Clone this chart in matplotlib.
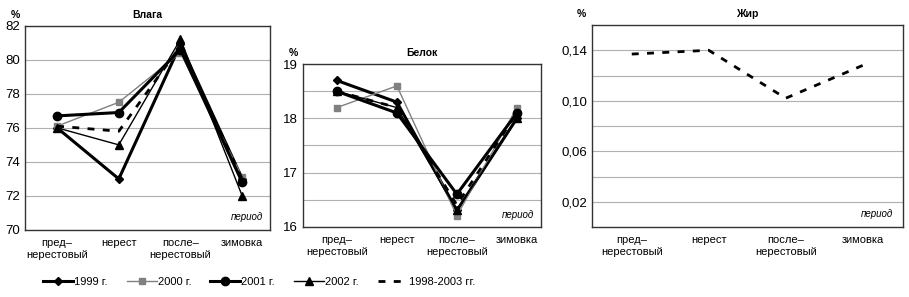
import matplotlib
matplotlib.use("Agg")
import matplotlib.pyplot as plt
from matplotlib import font_manager
from matplotlib.ticker import MultipleLocator, FixedLocator

plt.rcParams["font.family"] = ["Liberation Sans", "DejaVu Sans"]

periods = ["пред–\nнерестовый", "нерест", "после–\nнерестовый", "зимовка"]
series_names = ["1999 г.", "2000 г.", "2001 г.", "2002 г.", "1998-2003 гг."]

# Влага, %
moisture_1999 = [76.0, 73.0, 80.9, 73.0]
moisture_2000 = [76.1, 77.5, 80.4, 73.1]
moisture_2001 = [76.7, 76.9, 80.6, 72.8]
moisture_2002 = [76.0, 75.0, 81.2, 72.0]
moisture_mean = [76.1, 75.8, 80.8, 73.0]

# Белок, %
protein_1999 = [18.7, 18.3, 16.3, 18.0]
protein_2000 = [18.2, 18.6, 16.2, 18.2]
protein_2001 = [18.5, 18.1, 16.6, 18.1]
protein_2002 = [18.5, 18.2, 16.3, 18.0]
protein_mean = [18.5, 18.2, 16.4, 18.1]

# Жир, %
fat_mean = [0.137, 0.140, 0.102, 0.128]

styles = [
    dict(color="black", lw=2.2, marker="D", ms=4.5),
    dict(color="#808080", lw=1.0, marker="s", ms=5),
    dict(color="black", lw=2.2, marker="o", ms=6),
    dict(color="black", lw=1.0, marker="^", ms=6),
    dict(color="black", lw=2.0, ls=(0, (2.5, 3)), marker=None),
]

# narrow face for the legend, if present
names = {f.name for f in font_manager.fontManager.ttflist}
legend_family = "Liberation Sans Narrow" if "Liberation Sans Narrow" in names else "Liberation Sans"

fig = plt.figure(figsize=(9.09, 2.97), dpi=100)
ax1 = fig.add_axes([0.0275, 0.2256, 0.2695, 0.688])
ax2 = fig.add_axes([0.333, 0.2367, 0.262, 0.547])
ax3 = fig.add_axes([0.651, 0.2357, 0.342, 0.680])

x = list(range(len(periods)))


def style_axis(ax, title, title_y):
    ax.set_xticks(x)
    ax.set_xticklabels(periods, fontsize=8)
    ax.tick_params(axis="x", length=0, pad=6)
    ax.tick_params(axis="y", length=0, labelsize=9.5)
    ax.grid(axis="y", which="both", color="#b0b0b0", lw=0.8)
    ax.set_axisbelow(True)
    for sp in ax.spines.values():
        sp.set_color("#333333")
        sp.set_linewidth(1.0)
    ax.text(0.97, 0.04, "период", transform=ax.transAxes, ha="right",
            va="bottom", fontsize=7, style="italic")
    ax.text(0.5, title_y, title, transform=ax.transAxes, ha="center",
            va="bottom", fontsize=7.5, fontweight="bold")
    ax.text(-0.02, title_y, "%", transform=ax.transAxes, ha="right",
            va="bottom", fontsize=7.5, fontweight="bold")


moisture = [moisture_1999, moisture_2000, moisture_2001, moisture_2002, moisture_mean]
lines = []
for vals, st in zip(moisture, styles):
    (ln,) = ax1.plot(x, vals, **st)
    lines.append(ln)
ax1.set_ylim(70, 82)
ax1.set_xlim(-0.52, 3.45)
ax1.yaxis.set_major_locator(MultipleLocator(2))
style_axis(ax1, "Влага", 1.03)

protein = [protein_1999, protein_2000, protein_2001, protein_2002, protein_mean]
for vals, st in zip(protein, styles):
    ax2.plot(x, vals, **st)
ax2.set_ylim(16, 19)
ax2.set_xlim(-0.57, 3.4)
ax2.yaxis.set_major_locator(MultipleLocator(1))
ax2.yaxis.set_minor_locator(MultipleLocator(0.5))
ax2.tick_params(axis="y", which="minor", length=0)
style_axis(ax2, "Белок", 1.04)

ax3.plot(x, fat_mean, **styles[4])
ax3.set_ylim(0, 0.16)
ax3.set_xlim(-0.52, 3.52)
ax3.yaxis.set_major_locator(FixedLocator([0.02, 0.06, 0.10, 0.14]))
ax3.yaxis.set_minor_locator(FixedLocator([0.04, 0.08, 0.12]))
ax3.tick_params(axis="y", which="minor", length=0)
ax3.set_yticklabels(["0,02", "0,06", "0,10", "0,14"])
style_axis(ax3, "Жир", 1.03)

fig.legend(lines, series_names, loc="center", bbox_to_anchor=(0.285, 0.05),
           ncol=5, frameon=False, handlelength=2.7,
           handletextpad=0.1, columnspacing=1.7,
           prop={"family": legend_family, "size": 8})

fig.savefig("out.png", dpi=100)
